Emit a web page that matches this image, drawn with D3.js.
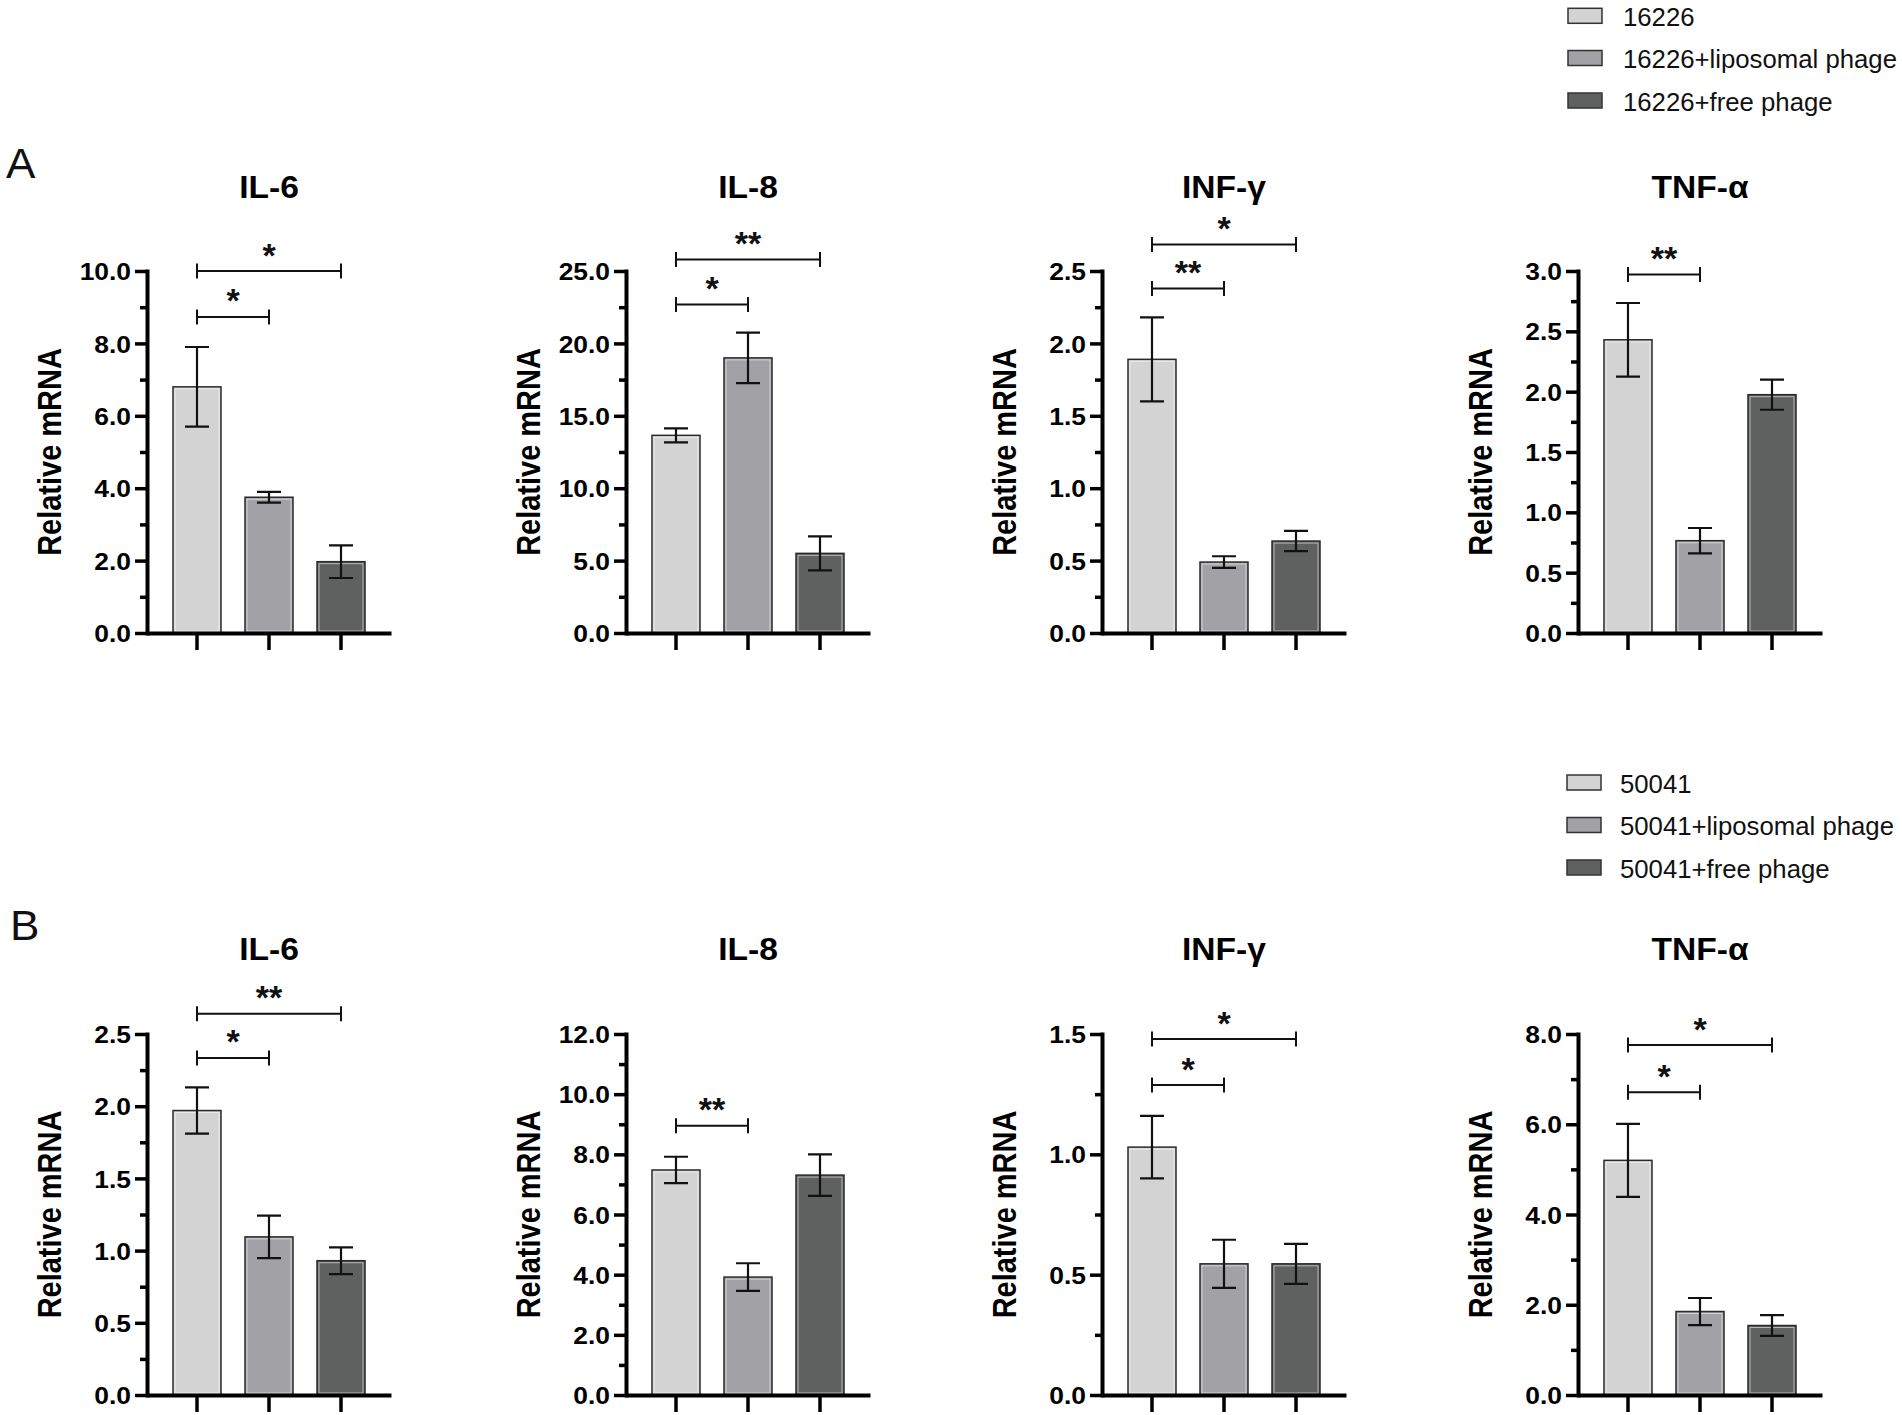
<!DOCTYPE html>
<html>
<head>
<meta charset="utf-8">
<script src="https://cdn.jsdelivr.net/npm/d3@7"></script>
<style>
  body { margin: 0; background: #ffffff; }
  svg { display: block; }
</style>
</head>
<body>
<svg id="chart" width="1902" height="1415"></svg>
<script>
// ---------------- DATA ----------------
const cytokines = ["IL-6", "IL-8", "INF-γ", "TNF-α"];
const panelLabels = ["A", "B"];
const groupsA = ["16226", "16226+liposomal phage", "16226+free phage"];
const groupsB = ["50041", "50041+liposomal phage", "50041+free phage"];

// means per cytokine (IL-6, IL-8, INF-γ, TNF-α), one value per group
const meansA = [
  [6.8, 3.75, 1.97],
  [13.65, 19.0, 5.5],
  [1.89, 0.49, 0.635],
  [2.43, 0.765, 1.975]
];
const errA = [
  [1.1, 0.15, 0.45],
  [0.48, 1.75, 1.17],
  [0.29, 0.04, 0.07],
  [0.305, 0.105, 0.125]
];
const meansB = [
  [1.97, 1.095, 0.93],
  [7.48, 3.92, 7.31],
  [1.03, 0.545, 0.545],
  [5.2, 1.85, 1.54]
];
const errB = [
  [0.16, 0.147, 0.093],
  [0.44, 0.46, 0.69],
  [0.13, 0.10, 0.083],
  [0.81, 0.30, 0.23]
];

// major tick labels per panel
const ticksA = [
  [0, 2, 4, 6, 8, 10],
  [0, 5, 10, 15, 20, 25],
  [0, 0.5, 1.0, 1.5, 2.0, 2.5],
  [0, 0.5, 1.0, 1.5, 2.0, 2.5, 3.0]
];
const ticksB = [
  [0, 0.5, 1.0, 1.5, 2.0, 2.5],
  [0, 2, 4, 6, 8, 10, 12],
  [0, 0.5, 1.0, 1.5],
  [0, 2, 4, 6, 8]
];

// significance brackets: [fromGroupIndex, toGroupIndex, level (data units), label]
const sigA = [
  [[0, 2, 10.0, "*"], [0, 1, 8.73, "*"]],
  [[0, 2, 25.8, "**"], [0, 1, 22.68, "*"]],
  [[0, 2, 2.683, "*"], [0, 1, 2.38, "**"]],
  [[0, 1, 2.97, "**"]]
];
const sigB = [
  [[0, 2, 2.64, "**"], [0, 1, 2.334, "*"]],
  [[0, 1, 8.95, "**"]],
  [[0, 2, 1.479, "*"], [0, 1, 1.288, "*"]],
  [[0, 2, 7.755, "*"], [0, 1, 6.71, "*"]]
];

const yTitle = "Relative mRNA";

// ---------------- STYLE / LAYOUT ----------------
const fills = ["#d3d3d3", "#a1a1a6", "#5f6160"];
const FONT = "'Liberation Sans', Arial, Helvetica, sans-serif";
const colX = [147, 626, 1102, 1578];
const rows = [
  { label: panelLabels[0], labelX: 6, labelY: 178, titleY: 198, top: 271, bottom: 633,
    groups: groupsA, means: meansA, errs: errA, ticks: ticksA, sig: sigA,
    legX: 1568, legTextX: 1623, legY: [15.8, 58, 100.5] },
  { label: panelLabels[1], labelX: 10, labelY: 940, titleY: 960, top: 1034, bottom: 1395,
    groups: groupsB, means: meansB, errs: errB, ticks: ticksB, sig: sigB,
    legX: 1567, legTextX: 1620, legY: [782.5, 825, 867.5] }
];

const svg = d3.select("#chart");
svg.append("rect").attr("width", 1902).attr("height", 1415).attr("fill", "#fff");

rows.forEach(row => {
  // panel letter
  svg.append("text")
    .attr("transform", `translate(${row.labelX},${row.labelY}) scale(1.05,1)`)
    .style("font", `normal 42px ${FONT}`)
    .attr("fill", "#111")
    .text(row.label);

  // legend
  const leg = svg.append("g");
  row.groups.forEach((gName, i) => {
    leg.append("rect")
      .attr("x", row.legX).attr("y", row.legY[i] - 7.5)
      .attr("width", 34).attr("height", 15)
      .attr("fill", fills[i]).attr("stroke", "#333").attr("stroke-width", 1.5);
    leg.append("text")
      .attr("transform", `translate(${row.legTextX},${row.legY[i] + 10}) scale(0.99,1)`)
      .style("font", `normal 26px ${FONT}`)
      .attr("fill", "#111")
      .text(gName);
  });

  cytokines.forEach((cyto, c) => {
    const ax = colX[c];
    const ticks = row.ticks[c];
    const yMax = ticks[ticks.length - 1];
    const y = d3.scaleLinear().domain([0, yMax]).range([row.bottom, row.top]);
    const x = d3.scaleBand().domain(row.groups).range([ax, ax + 244])
      .paddingInner(1 / 3).paddingOuter(0.361);
    const bw = x.bandwidth();
    const cx = d => x(d) + bw / 2;

    const g = svg.append("g");

    // bars
    g.selectAll("rect.bar").data(row.groups).join("rect")
      .attr("class", "bar")
      .attr("x", d => x(d))
      .attr("width", bw)
      .attr("y", (d, i) => y(row.means[c][i]))
      .attr("height", (d, i) => row.bottom - y(row.means[c][i]))
      .attr("fill", (d, i) => fills[i])
      .attr("stroke", "#2a2a2a")
      .attr("stroke-width", 1.5);
    // thin light inner edge
    g.selectAll("rect.inner").data(row.groups).join("rect")
      .attr("class", "inner")
      .attr("x", d => x(d) + 2)
      .attr("width", bw - 4)
      .attr("y", (d, i) => y(row.means[c][i]) + 2)
      .attr("height", (d, i) => Math.max(0, row.bottom - y(row.means[c][i]) - 4))
      .attr("fill", "none")
      .attr("stroke", "#ffffff")
      .attr("stroke-opacity", 0.55)
      .attr("stroke-width", 1);

    // error bars
    const eb = g.selectAll("g.err").data(row.groups).join("g").attr("class", "err");
    eb.append("path")
      .attr("d", (d, i) => {
        const m = row.means[c][i], e = row.errs[c][i];
        const yt = y(m + e), yb = y(m - e), xc = cx(d);
        return `M${xc},${yt}V${yb}M${xc - 12},${yt}H${xc + 12}M${xc - 12},${yb}H${xc + 12}`;
      })
      .attr("fill", "none").attr("stroke", "#111").attr("stroke-width", 2.2);

    // y axis (major)
    const yAxis = d3.axisLeft(y).tickValues(ticks).tickSize(12).tickSizeOuter(0)
      .tickFormat(d3.format(".1f"));
    const ga = g.append("g").attr("transform", `translate(${ax},0)`).call(yAxis);
    ga.select(".domain").attr("stroke", "#000").attr("stroke-width", 4).attr("stroke-linecap", "square");
    ga.selectAll(".tick line").attr("stroke", "#000").attr("stroke-width", 3.5);
    ga.selectAll(".tick text")
      .attr("x", null)
      .attr("dy", "0.36em")
      .attr("transform", "translate(-16,0) scale(1.1,1)")
      .attr("fill", "#000")
      .style("font", `bold 24px ${FONT}`);

    // y axis (minor)
    const minor = d3.pairs(ticks).map(p => (p[0] + p[1]) / 2);
    const gm = g.append("g").attr("transform", `translate(${ax},0)`)
      .call(d3.axisLeft(y).tickValues(minor).tickSize(7).tickFormat(""));
    gm.select(".domain").remove();
    gm.selectAll(".tick line").attr("stroke", "#000").attr("stroke-width", 3.5);

    // x axis
    const gx = g.append("g").attr("transform", `translate(0,${row.bottom})`)
      .call(d3.axisBottom(x).tickSize(17).tickSizeOuter(0).tickFormat(""));
    gx.select(".domain").attr("stroke", "#000").attr("stroke-width", 4);
    gx.selectAll(".tick line").attr("stroke", "#000").attr("stroke-width", 3.5);

    // y title
    g.append("text")
      .attr("transform", `translate(${ax - 98},${(row.top + row.bottom) / 2}) rotate(-90) scale(1,1.12)`)
      .attr("text-anchor", "middle")
      .attr("dy", "0.36em")
      .attr("fill", "#000")
      .style("font", `bold 29px ${FONT}`)
      .text(yTitle);

    // panel title
    g.append("text")
      .attr("transform", `translate(${cx(row.groups[1])},${row.titleY}) scale(1.05,1)`)
      .attr("text-anchor", "middle")
      .attr("fill", "#000")
      .style("font", `bold 32px ${FONT}`)
      .text(cyto);

    // significance brackets
    row.sig[c].forEach(s => {
      const x1 = cx(row.groups[s[0]]), x2 = cx(row.groups[s[1]]), yb = y(s[2]);
      g.append("path")
        .attr("d", `M${x1},${yb - 7.5}V${yb + 7.5}M${x1},${yb}H${x2}M${x2},${yb - 7.5}V${yb + 7.5}`)
        .attr("fill", "none").attr("stroke", "#111").attr("stroke-width", 2);
      g.append("text")
        .attr("x", (x1 + x2) / 2)
        .attr("y", yb - 4.5)
        .attr("text-anchor", "middle")
        .attr("fill", "#111")
        .style("font", `bold 34px ${FONT}`)
        .text(s[3]);
    });
  });
});
</script>
</body>
</html>
